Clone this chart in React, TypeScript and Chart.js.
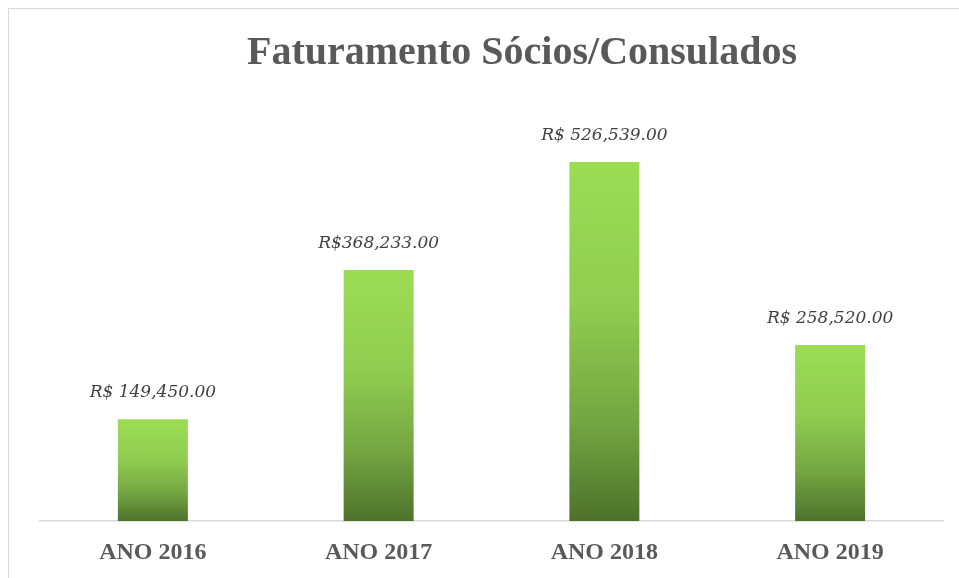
import React, { useEffect, useRef } from "react";
import { Chart, registerables } from "chart.js";

Chart.register(...registerables);

const categories = ["ANO 2016", "ANO 2017", "ANO 2018", "ANO 2019"];
const values = [149450, 368233, 526539, 258520];
const valueLabels = ["R$ 149,450.00", "R$368,233.00", "R$ 526,539.00", "R$ 258,520.00"];
const title = "Faturamento Sócios/Consulados";

const overlayPlugin = {
  id: "overlay",
  afterDatasetsDraw(chart: any) {
    const ctx = chart.ctx;
    ctx.save();
    // title
    ctx.fillStyle = "#595959";
    ctx.font = "bold 40px 'Liberation Serif'";
    ctx.textAlign = "center";
    ctx.textBaseline = "alphabetic";
    ctx.fillText(title, 522, 64);
    // value labels
    const meta = chart.getDatasetMeta(0);
    ctx.fillStyle = "#404040";
    ctx.font = "italic 17px 'DejaVu Serif'";
    meta.data.forEach((bar: any, i: number) => {
      ctx.fillText(valueLabels[i], bar.x, bar.y - 22);
    });
    ctx.restore();
  },
};

export default function App() {
  const ref = useRef<HTMLCanvasElement>(null);
  useEffect(() => {
    if (!ref.current) return;
    const chart = new Chart(ref.current, {
      type: "bar",
      data: {
        labels: categories,
        datasets: [
          {
            data: values,
            backgroundColor: (c: any) => {
              const ch = c.chart;
              const area = ch.chartArea;
              if (!area || !ch.scales.y) return "#7AB442";
              const top = ch.scales.y.getPixelForValue(c.raw);
              const g = ch.ctx.createLinearGradient(0, top, 0, area.bottom);
              g.addColorStop(0, "#9CDD55");
              g.addColorStop(0.4, "#90CC50");
              g.addColorStop(0.72, "#74A642");
              g.addColorStop(1, "#4D722A");
              return g;
            },
            borderWidth: 0,
            barPercentage: 0.31,
            categoryPercentage: 1,
          },
        ],
      },
      options: {
        animation: false,
        responsive: false,
        devicePixelRatio: 1,
        layout: { padding: { top: 112, left: 40, right: 16, bottom: 12 } },
        plugins: {
          legend: { display: false },
          title: { display: false },
          tooltip: { enabled: false },
        },
        scales: {
          x: {
            grid: { display: false, drawTicks: false },
            border: { display: true, color: "#d9d9d9", width: 1.5 },
            ticks: {
              color: "#595959",
              font: { family: "'Liberation Serif'", size: 24, weight: "bold" },
              padding: 17,
            },
          },
          y: {
            display: false,
            min: 0,
            max: 600000,
          },
        },
      },
      plugins: [overlayPlugin],
    });
    return () => chart.destroy();
  }, []);
  return (
    <div style={{ position: "fixed", left: 0, top: 0, width: 959, height: 578, overflow: "hidden", background: "#fff" }}>
      <div style={{ position: "absolute", left: 8, top: 8, width: 1000, height: 1000, border: "1px solid #d9d9d9" }} />
      <canvas ref={ref} width={959} height={596} style={{ position: "absolute", left: 0, top: 0, width: 959, height: 596 }} />
    </div>
  );
}
